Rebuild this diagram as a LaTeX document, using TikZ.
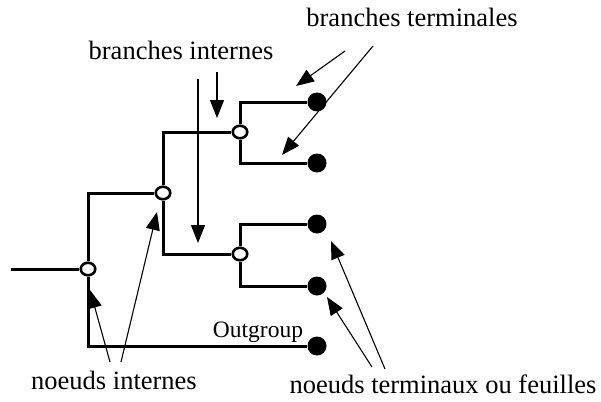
\documentclass[tikz,border=0pt]{standalone}
\usepackage{fontspec}
\setmainfont{Liberation Serif}
\usetikzlibrary{arrows.meta,shapes.geometric}
\begin{document}
\begin{tikzpicture}[x=1pt,y=-1pt,
  inode/.style={ellipse,draw,fill=white,line width=2.6pt,minimum width=14.5pt,minimum height=12.5pt,inner sep=0pt},
  leaf/.style={circle,fill=black,minimum size=19pt,inner sep=0pt},
  branch/.style={line width=3pt},
  lbl/.style={font=\fontsize{26.5}{30}\selectfont,inner sep=0pt,anchor=base},
  pointer/.style={line width=1.1pt,-{Triangle[length=18pt,width=14pt]}}]
\useasboundingbox (0,0) rectangle (601,401);
% tree
\coordinate (start) at (11,269);
\node[inode] (r) at (88,269) {};
\node[inode] (n1) at (163,193) {};
\node[inode] (n2) at (240,132) {};
\node[inode] (n3) at (240,254) {};
\node[leaf] (l1) at (317,102) {};
\node[leaf] (l2) at (317,163) {};
\node[leaf] (l3) at (317,224) {};
\node[leaf] (l4) at (317,286) {};
\node[leaf] (l5) at (317,346) {};
\draw[branch] (start) -- (r);
\draw[branch] (r) |- (n1);
\draw[branch] (r) |- (l5);
\draw[branch] (n1) |- (n2);
\draw[branch] (n1) |- (n3);
\draw[branch] (n2) |- (l1);
\draw[branch] (n2) |- (l2);
\draw[branch] (n3) |- (l3);
\draw[branch] (n3) |- (l4);
% labels
\node[lbl] (bi) at (181,60) {branches internes};
\node[lbl] (bt) at (412,27) {branches terminales};
\node[lbl] (ni) at (114,389) {noeuds internes};
\node[lbl] (nt) at (443,393) {noeuds terminaux ou feuilles};
\node[font=\fontsize{23.5}{28}\selectfont,inner sep=0pt,anchor=base] (og) at (258,337) {Outgroup};
% pointer arrows
\coordinate (bi1s) at (198,79);  \coordinate (bi1e) at (198,243);
\coordinate (bi2s) at (217,72);  \coordinate (bi2e) at (217,118);
\coordinate (bt1s) at (345,51);  \coordinate (bt1e) at (296,86);
\coordinate (bt2s) at (373,46);  \coordinate (bt2e) at (282,155);
\coordinate (ni1s) at (110,362); \coordinate (ni1e) at (90,290);
\coordinate (ni2s) at (121,362); \coordinate (ni2e) at (157,212);
\coordinate (nt1s) at (385,369); \coordinate (nt1e) at (331,241);
\coordinate (nt2s) at (372,367); \coordinate (nt2e) at (327,297);
\draw[pointer] (bi1s) -- (bi1e);
\draw[pointer] (bi2s) -- (bi2e);
\draw[pointer] (bt1s) -- (bt1e);
\draw[pointer] (bt2s) -- (bt2e);
\draw[pointer] (ni1s) -- (ni1e);
\draw[pointer] (ni2s) -- (ni2e);
\draw[pointer] (nt1s) -- (nt1e);
\draw[pointer] (nt2s) -- (nt2e);
\end{tikzpicture}
\end{document}
